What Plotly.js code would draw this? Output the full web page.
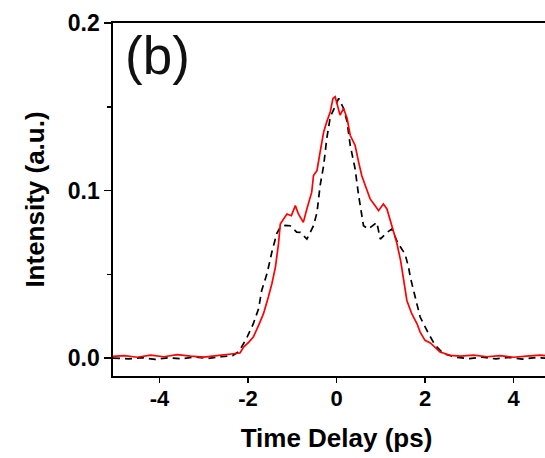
<!DOCTYPE html>
<html>
<head>
<meta charset="utf-8">
<script src="https://cdn.plot.ly/plotly-3.0.1.min.js"></script>
<style>
  html, body { margin: 0; padding: 0; overflow: hidden; background: #fff; }
  #chart { width: 560px; height: 458px; }
</style>
</head>
<body>
<div id="chart"></div>
<script>
// Red solid trace
const redX = [-5.05, -4.8, -4.5, -4.2, -3.9, -3.6, -3.3, -3.0, -2.7, -2.45, -2.33, -2.18, -2.10, -1.98, -1.88, -1.76, -1.65, -1.54, -1.46, -1.38, -1.31, -1.27, -1.12, -1.02, -0.93, -0.86, -0.75, -0.67, -0.56, -0.52, -0.44, -0.37, -0.29, -0.22, -0.14, -0.08, -0.03, 0.05, 0.08, 0.16, 0.24, 0.31, 0.42, 0.50, 0.57, 0.65, 0.76, 0.87, 0.95, 1.06, 1.14, 1.25, 1.36, 1.45, 1.51, 1.59, 1.70, 1.82, 1.89, 2.00, 2.12, 2.22, 2.34, 2.57, 2.8, 3.1, 3.4, 3.7, 4.0, 4.3, 4.6, 4.9, 5.05];
const redY = [0.0010, 0.0015, 0.0005, 0.0018, 0.0008, 0.0020, 0.0012, 0.0006, 0.0015, 0.0020, 0.0026, 0.0030, 0.0066, 0.0095, 0.0125, 0.0195, 0.0265, 0.0364, 0.0444, 0.0543, 0.0683, 0.0800, 0.0860, 0.0850, 0.0910, 0.0860, 0.0810, 0.0890, 0.0990, 0.109, 0.112, 0.123, 0.135, 0.141, 0.147, 0.155, 0.156, 0.148, 0.145, 0.149, 0.143, 0.133, 0.127, 0.117, 0.109, 0.103, 0.095, 0.091, 0.088, 0.092, 0.089, 0.079, 0.069, 0.058, 0.048, 0.0344, 0.0265, 0.0205, 0.0155, 0.0106, 0.0090, 0.0065, 0.0036, 0.0016, 0.0012, 0.0018, 0.0008, 0.0015, 0.0005, 0.0012, 0.0018, 0.0010, 0.0012];

// Black dashed trace
const blackX = [-5.05, -4.7, -4.4, -4.1, -3.8, -3.5, -3.2, -2.9, -2.6, -2.35, -2.2, -2.02, -1.88, -1.76, -1.69, -1.57, -1.46, -1.35, -1.27, -1.16, -1.05, -0.90, -0.82, -0.67, -0.52, -0.44, -0.37, -0.29, -0.22, -0.14, -0.07, 0.05, 0.16, 0.24, 0.31, 0.42, 0.50, 0.54, 0.61, 0.72, 0.91, 0.99, 1.14, 1.25, 1.38, 1.55, 1.63, 1.67, 1.78, 1.89, 2.08, 2.23, 2.42, 2.7, 3.0, 3.3, 3.6, 3.9, 4.2, 4.5, 4.8, 5.05];
const blackY = [0.0000, -0.0005, 0.0003, -0.0008, 0.0002, -0.0004, 0.0006, -0.0002, 0.0008, 0.0015, 0.0040, 0.0125, 0.0205, 0.0295, 0.0404, 0.0504, 0.0633, 0.0743, 0.0782, 0.0792, 0.0790, 0.0752, 0.0750, 0.0710, 0.0790, 0.0870, 0.103, 0.115, 0.131, 0.144, 0.148, 0.155, 0.149, 0.141, 0.127, 0.113, 0.097, 0.091, 0.079, 0.077, 0.081, 0.071, 0.075, 0.077, 0.069, 0.062, 0.054, 0.048, 0.0364, 0.0245, 0.0146, 0.0076, 0.0026, 0.0005, -0.0003, 0.0006, -0.0005, 0.0004, -0.0006, 0.0003, -0.0002, 0.0000];

const xTickVals = [-4, -2, 0, 2, 4];
const xTickText = ["-4", "-2", "0", "2", "4"];
const yTickVals = [0.0, 0.1, 0.2];
const yTickText = ["0.0", "0.1", "0.2"];

const fontFam = "Liberation Sans, Arial, sans-serif";

const traces = [
  {
    x: blackX, y: blackY, type: "scatter", mode: "lines",
    line: { color: "#000000", width: 1.7, dash: "7px,5px" },
    showlegend: false, hoverinfo: "skip"
  },
  {
    x: redX, y: redY, type: "scatter", mode: "lines",
    line: { color: "#ff0000", width: 1.7 },
    showlegend: false, hoverinfo: "skip"
  }
];

const layout = {
  width: 560, height: 458,
  margin: { l: 113, r: 0, t: 23, b: 82 },
  paper_bgcolor: "#ffffff", plot_bgcolor: "#ffffff",
  showlegend: false,
  xaxis: {
    range: [-5.05, 5.05],
    showgrid: false, zeroline: false,
    showline: true, linecolor: "#000", linewidth: 1.6, mirror: true,
    ticks: "outside", ticklen: 5, tickwidth: 1.5, tickcolor: "#000",
    tickmode: "array", tickvals: xTickVals, ticktext: xTickText,
    ticklabelstandoff: -3,
    tickfont: { family: fontFam, size: 22, color: "#000", weight: "bold" },
    title: { text: "Time Delay (ps)", standoff: 19,
             font: { family: fontFam, size: 26, color: "#000", weight: "bold" } }
  },
  yaxis: {
    range: [-0.0107, 0.2],
    showgrid: false, zeroline: false,
    showline: true, linecolor: "#000", linewidth: 1.6, mirror: false,
    ticks: "outside", ticklen: 7, tickwidth: 1.5, tickcolor: "#000",
    tickmode: "array", tickvals: yTickVals, ticktext: yTickText,
    minor: { tickmode: "array", tickvals: [0.05, 0.15], ticks: "outside", ticklen: 4, tickwidth: 1.5, tickcolor: "#000" },
    tickfont: { family: fontFam, size: 23, color: "#000", weight: "bold" },
    title: { text: "Intensity (a.u.)", standoff: 16,
             font: { family: fontFam, size: 26, color: "#000", weight: "bold" } }
  },
  annotations: [
    {
      text: "(b)", xref: "paper", yref: "paper",
      x: 0.022, y: 0.82, xanchor: "left", yanchor: "bottom",
      showarrow: false,
      font: { family: fontFam, size: 53, color: "#111" }
    }
  ]
};

Plotly.newPlot("chart", traces, layout, { staticPlot: true, displayModeBar: false });
</script>
</body>
</html>
